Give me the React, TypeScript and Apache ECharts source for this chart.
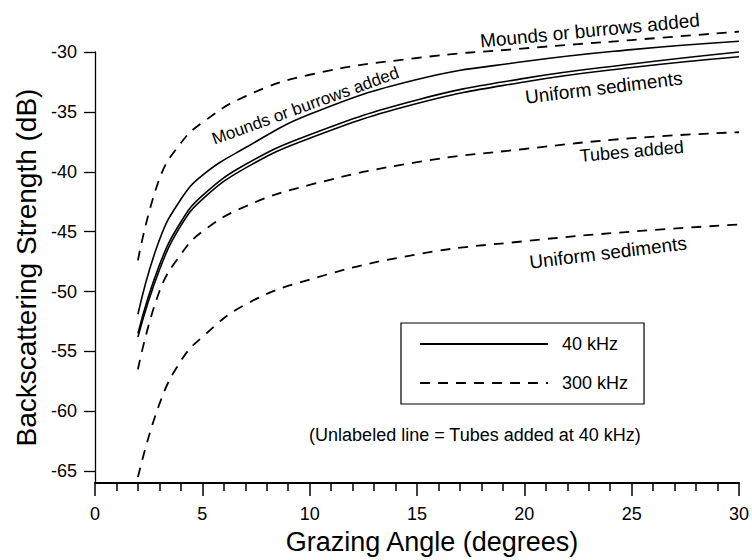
import React, { useEffect, useRef } from "react";
import * as echarts from "echarts";

// Grazing angle (degrees)
const angles = [2, 3, 4, 5, 7, 10, 15, 20, 25, 30];
// 40 kHz (solid)
const mounds40 = [-51.9, -45.7, -42.3, -40.3, -38.0, -35.2, -32.3, -30.8, -29.8, -29.1];
const tubes40 = [-53.5, -47.8, -44.2, -42.0, -39.4, -36.9, -34.0, -32.2, -31.0, -30.0];
const uniform40 = [-53.8, -48.2, -44.5, -42.3, -39.7, -37.2, -34.3, -32.5, -31.3, -30.4];
// 300 kHz (dashed)
const mounds300 = [-47.4, -40.6, -37.6, -35.9, -33.7, -31.9, -30.5, -29.7, -29.0, -28.3];
const tubes300 = [-56.5, -50.0, -46.9, -45.0, -42.9, -41.1, -39.2, -38.1, -37.2, -36.7];
const uniform300 = [-65.5, -59.4, -55.8, -53.8, -51.1, -49.0, -46.9, -45.8, -45.0, -44.4];

const yTicks = [-65, -60, -55, -50, -45, -40, -35, -30];
const xTicks = [0, 5, 10, 15, 20, 25, 30];

// Curve annotations: [text, angle, dB, rotation(deg), fontSize]
const notes: [string, number, number, number, number][] = [
  ["Mounds or burrows added", 9.8, -34.5, 20, 17],
  ["Mounds or burrows added", 23.05, -28.2, 5.5, 19],
  ["Uniform sediments", 23.7, -32.97, 7, 19],
  ["Tubes added", 25.0, -38.3, 5, 18],
  ["Uniform sediments", 23.9, -46.75, 7, 19],
  ["(Unlabeled line = Tubes added at 40 kHz)", 17.7, -62.0, 0, 18],
];

const FONT = "'Liberation Sans', Arial, Helvetica, sans-serif";

export default function App() {
  const ref = useRef<HTMLDivElement>(null);
  useEffect(() => {
    const chart = echarts.init(ref.current!, null, { renderer: "svg" });
    const mk = (name: string, vals: number[], dashed: boolean) => ({
      name,
      type: "line",
      data: angles.map((a, i) => [a, vals[i]]),
      smooth: 0.45,
      symbol: "none",
      showSymbol: false,
      clip: false,
      itemStyle: { color: "#000" },
      lineStyle: {
        color: "#000",
        width: dashed ? 1.8 : 1.6,
        type: dashed ? [10, 8] : "solid",
      },
    });
    chart.setOption({
      animation: false,
      backgroundColor: "#fff",
      textStyle: { fontFamily: FONT, color: "#000" },
      grid: { left: 95, right: 13, top: 52, bottom: 73 },
      legend: {
        data: ["40 kHz", "300 kHz"],
        orient: "vertical",
        left: 401,
        top: 323,
        padding: [12, 16, 12, 18],
        itemGap: 21,
        itemWidth: 128,
        itemHeight: 20,
        borderColor: "#000",
        borderWidth: 1.2,
        itemStyle: { opacity: 0 },
        textStyle: { fontSize: 18, color: "#000", fontFamily: FONT, padding: [0, 0, 0, 9] },
      },
      xAxis: {
        type: "value",
        min: 0,
        max: 30,
        interval: 5,
        name: "Grazing Angle (degrees)",
        nameLocation: "middle",
        nameGap: 40,
        nameTextStyle: { fontSize: 27, color: "#000", fontFamily: FONT, padding: [0, 0, 0, 30] },
        axisLine: { show: true, lineStyle: { color: "#000", width: 2 } },
        axisTick: { show: true, length: 13, lineStyle: { color: "#000", width: 1.5 }, customValues: xTicks },
        minorTick: { show: true, splitNumber: 5, length: 8, lineStyle: { color: "#000", width: 1.5 } },
        axisLabel: { fontSize: 18, color: "#000", margin: 22, fontFamily: FONT, customValues: xTicks },
        splitLine: { show: false },
      },
      yAxis: {
        type: "value",
        min: -66,
        max: -30,
        name: "Backscattering Strength (dB)",
        nameLocation: "middle",
        nameGap: 54,
        nameRotate: 90,
        nameTextStyle: { fontSize: 28, color: "#000", fontFamily: FONT },
        axisLine: { show: true, lineStyle: { color: "#000", width: 1.3 } },
        axisTick: { show: true, length: 11, lineStyle: { color: "#000", width: 1.3 }, customValues: yTicks },
        axisLabel: { fontSize: 18, color: "#000", margin: 18, fontFamily: FONT, customValues: yTicks },
        splitLine: { show: false },
      },
      series: [
        mk("40 kHz", mounds40, false),
        mk("40 kHz", tubes40, false),
        mk("40 kHz", uniform40, false),
        mk("300 kHz", mounds300, true),
        mk("300 kHz", tubes300, true),
        mk("300 kHz", uniform300, true),
      ],
    });
    const graphic = notes.map(([text, a, v, rot, size]) => {
      const p = chart.convertToPixel({ gridIndex: 0 }, [a, v]) as number[];
      return {
        type: "text",
        x: p[0],
        y: p[1],
        rotation: (rot * Math.PI) / 180,
        style: {
          text,
          fill: "#000",
          font: `${size}px ${FONT}`,
          align: "center",
          verticalAlign: "middle",
        },
        silent: true,
      };
    });
    chart.setOption({ graphic });
    return () => chart.dispose();
  }, []);
  return (
    <div
      ref={ref}
      style={{ position: "fixed", left: 0, top: 0, width: 752, height: 560, background: "#fff" }}
    />
  );
}
